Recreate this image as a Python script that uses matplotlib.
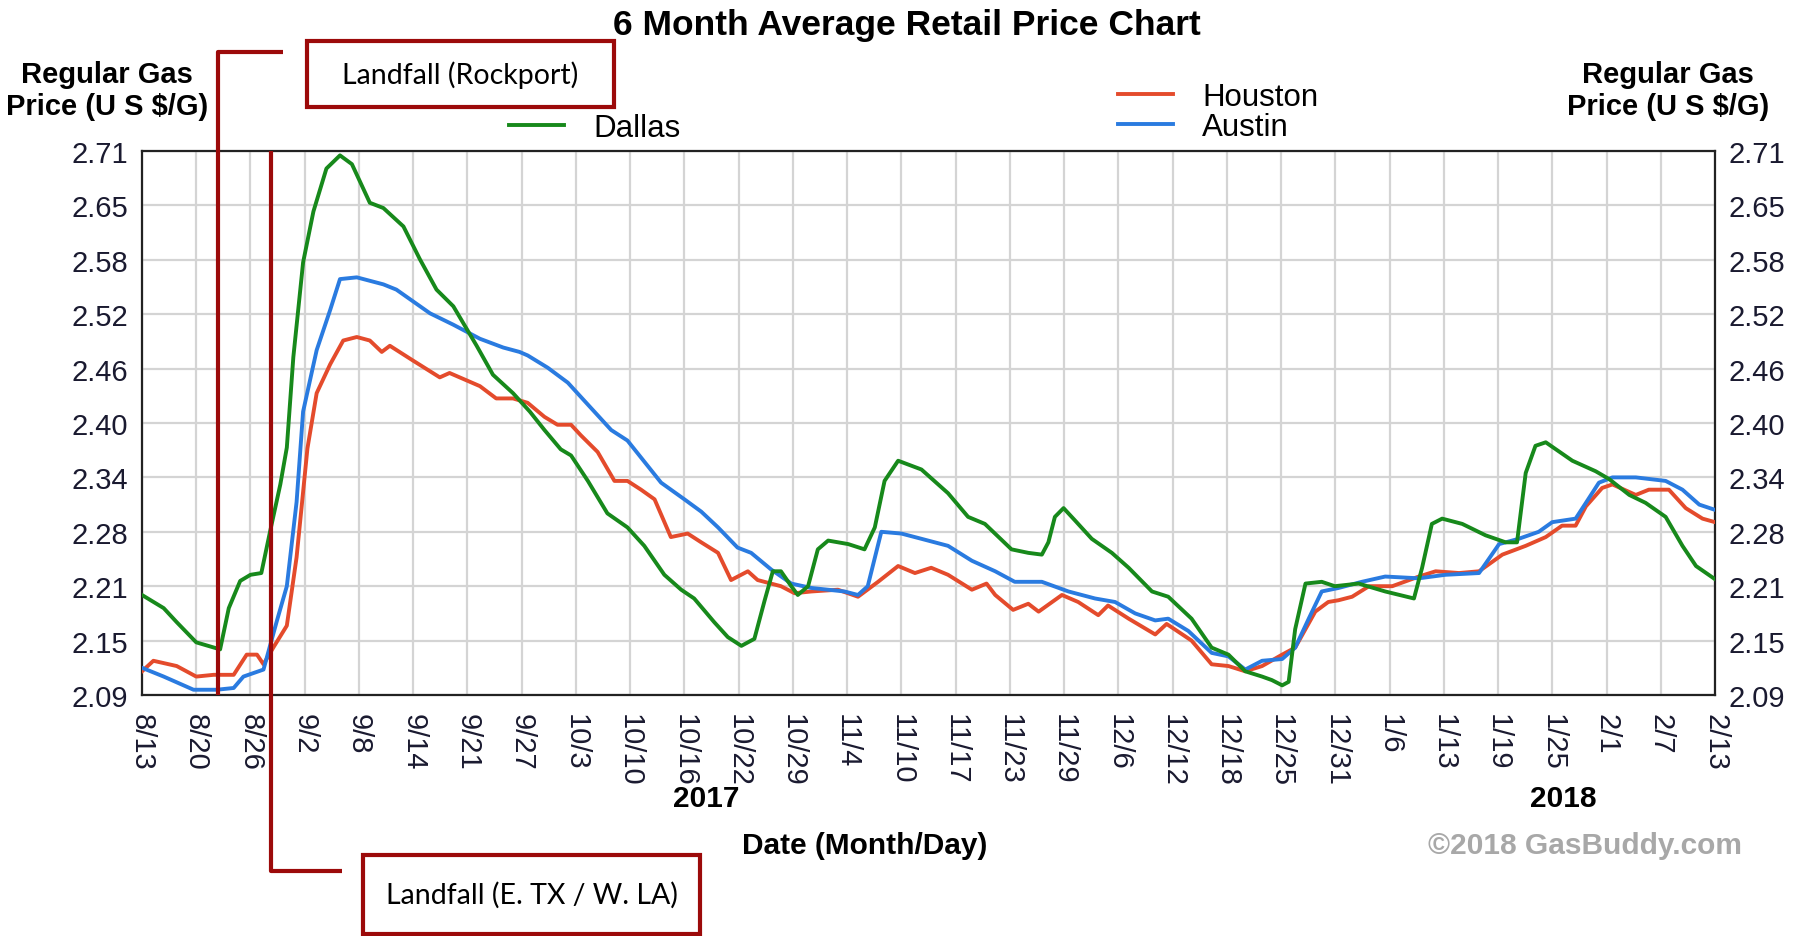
import matplotlib
matplotlib.use("Agg")
import matplotlib.pyplot as plt
from matplotlib.lines import Line2D
from matplotlib.patches import Rectangle

# x positions are in tick units (0 = 8/13/2017 ... 29 = 2/13/2018)
date_labels = ["8/13", "8/20", "8/26", "9/2", "9/8", "9/14", "9/21", "9/27", "10/3", "10/10",
               "10/16", "10/22", "10/29", "11/4", "11/10", "11/17", "11/23", "11/29", "12/6", "12/12",
               "12/18", "12/25", "12/31", "1/6", "1/13", "1/19", "1/25", "2/1", "2/7", "2/13"]
price_ticks = [2.09, 2.152, 2.214, 2.276, 2.338, 2.40, 2.462, 2.524, 2.586, 2.648, 2.71]
price_labels = ["2.09", "2.15", "2.21", "2.28", "2.34", "2.40", "2.46", "2.52", "2.58", "2.65", "2.71"]

dallas_x = [0, 0.4, 0.64, 1.0, 1.44, 1.6, 1.81, 2.0, 2.2, 2.36, 2.55, 2.67, 2.79, 2.97, 3.16, 3.4,
            3.65, 3.87, 4.2, 4.45, 4.82, 5.12, 5.43, 5.74, 6.17, 6.47, 6.84, 7.15, 7.42, 7.72, 7.91,
            8.22, 8.58, 8.95, 9.26, 9.63, 9.94, 10.18, 10.55, 10.8, 11.05, 11.29, 11.48, 11.63, 11.78,
            11.97, 12.09, 12.28, 12.46, 12.65, 13.02, 13.32, 13.51, 13.69, 13.94, 14.37, 14.86, 15.23,
            15.54, 16.03, 16.34, 16.59, 16.71, 16.83, 16.99, 17.2, 17.51, 17.88, 18.19, 18.62, 18.92,
            19.35, 19.72, 20.03, 20.34, 20.65, 20.83, 21.02, 21.14, 21.26, 21.45, 21.75, 21.99, 22.43,
            22.92, 23.45, 23.6, 23.78, 23.97, 24.34, 24.77, 25.14, 25.35, 25.51, 25.69, 25.88, 26.37,
            26.8, 27.05, 27.42, 27.72, 28.09, 28.4, 28.65, 29.0]
dallas_y = [2.204, 2.189, 2.173, 2.150, 2.142, 2.189, 2.22, 2.227, 2.229, 2.276, 2.33, 2.372, 2.475,
            2.583, 2.641, 2.69, 2.705, 2.695, 2.651, 2.645, 2.624, 2.587, 2.552, 2.533, 2.488, 2.455,
            2.434, 2.413, 2.392, 2.37, 2.363, 2.334, 2.297, 2.281, 2.26, 2.227, 2.21, 2.2, 2.173, 2.156,
            2.146, 2.154, 2.198, 2.231, 2.231, 2.214, 2.204, 2.214, 2.256, 2.266, 2.262, 2.256, 2.281,
            2.334, 2.357, 2.347, 2.32, 2.293, 2.285, 2.256, 2.252, 2.25, 2.264, 2.293, 2.303, 2.289,
            2.268, 2.252, 2.235, 2.208, 2.202, 2.177, 2.144, 2.136, 2.117, 2.111, 2.107, 2.101, 2.105,
            2.165, 2.217, 2.219, 2.214, 2.217, 2.208, 2.2, 2.235, 2.285, 2.291, 2.285, 2.272, 2.264,
            2.264, 2.343, 2.374, 2.378, 2.357, 2.345, 2.336, 2.318, 2.309, 2.293, 2.26, 2.237, 2.222]

austin_x = [0, 0.4, 0.95, 1.38, 1.69, 1.87, 2.24, 2.48, 2.67, 2.85, 2.97, 3.22, 3.47, 3.65, 3.96,
            4.45, 4.69, 5.31, 5.74, 6.23, 6.66, 6.96, 7.11, 7.48, 7.85, 8.22, 8.65, 8.95, 9.57, 10.0,
            10.31, 10.62, 10.98, 11.23, 11.6, 11.97, 12.34, 12.95, 13.2, 13.38, 13.63, 14.0, 14.37,
            14.86, 15.3, 15.73, 16.09, 16.59, 17.08, 17.57, 17.94, 18.31, 18.68, 18.92, 19.29, 19.72,
            20.03, 20.34, 20.65, 21.02, 21.26, 21.51, 21.75, 22.06, 22.49, 22.92, 23.54, 24.03, 24.65,
            25.02, 25.38, 25.75, 26.0, 26.43, 26.62, 26.86, 27.11, 27.54, 28.09, 28.4, 28.71, 29.0]
austin_y = [2.121, 2.111, 2.096, 2.096, 2.098, 2.111, 2.119, 2.173, 2.214, 2.31, 2.413, 2.483, 2.529,
            2.564, 2.566, 2.558, 2.552, 2.525, 2.512, 2.496, 2.486, 2.481, 2.477, 2.463, 2.446, 2.421,
            2.392, 2.38, 2.332, 2.313, 2.299, 2.281, 2.258, 2.252, 2.233, 2.217, 2.212, 2.208, 2.204,
            2.214, 2.276, 2.274, 2.268, 2.26, 2.243, 2.231, 2.219, 2.219, 2.208, 2.2, 2.196, 2.183,
            2.175, 2.177, 2.163, 2.138, 2.134, 2.119, 2.129, 2.131, 2.144, 2.177, 2.208, 2.212, 2.219,
            2.225, 2.223, 2.227, 2.229, 2.262, 2.268, 2.276, 2.287, 2.291, 2.309, 2.332, 2.338, 2.338,
            2.334, 2.324, 2.307, 2.301]

houston_x = [0, 0.21, 0.64, 1.0, 1.32, 1.69, 1.93, 2.12, 2.24, 2.42, 2.67, 2.85, 3.05, 3.22, 3.47,
             3.71, 3.96, 4.2, 4.42, 4.57, 5.0, 5.49, 5.67, 6.23, 6.53, 6.84, 7.11, 7.42, 7.66, 7.91,
             8.09, 8.4, 8.71, 8.95, 9.2, 9.45, 9.75, 10.06, 10.31, 10.62, 10.86, 11.17, 11.35, 11.78,
             12.03, 12.34, 12.83, 13.2, 13.57, 13.94, 14.25, 14.55, 14.86, 15.3, 15.57, 15.73, 16.06,
             16.34, 16.53, 16.96, 17.26, 17.63, 17.81, 18.19, 18.68, 18.89, 19.35, 19.72, 20.03, 20.34,
             20.65, 21.02, 21.26, 21.63, 21.87, 22.06, 22.31, 22.62, 23.05, 23.54, 23.85, 24.28, 24.65,
             25.08, 25.51, 25.88, 26.18, 26.43, 26.62, 26.92, 27.11, 27.54, 27.78, 28.15, 28.46, 28.77,
             29.0]
houston_y = [2.117, 2.129, 2.123, 2.111, 2.113, 2.113, 2.136, 2.136, 2.125, 2.144, 2.169, 2.247,
             2.371, 2.434, 2.467, 2.494, 2.498, 2.494, 2.481, 2.488, 2.471, 2.452, 2.457, 2.442, 2.428,
             2.428, 2.423, 2.407, 2.398, 2.398, 2.386, 2.367, 2.334, 2.334, 2.324, 2.313, 2.27, 2.274,
             2.264, 2.252, 2.221, 2.231, 2.221, 2.214, 2.206, 2.208, 2.21, 2.202, 2.219, 2.237, 2.229,
             2.235, 2.227, 2.21, 2.217, 2.204, 2.187, 2.194, 2.185, 2.204, 2.196, 2.181, 2.192, 2.177,
             2.159, 2.171, 2.152, 2.125, 2.123, 2.117, 2.123, 2.136, 2.144, 2.185, 2.196, 2.198, 2.202,
             2.214, 2.214, 2.225, 2.231, 2.229, 2.231, 2.25, 2.26, 2.27, 2.283, 2.283, 2.305, 2.326,
             2.33, 2.318, 2.324, 2.324, 2.303, 2.291, 2.287]

W, H = 1801, 937
plt.rcParams['font.family'] = ['Liberation Sans', 'DejaVu Sans']

fig = plt.figure(figsize=(W / 100, H / 100), dpi=100)
ax = fig.add_axes([142 / W, 1 - 696 / H, (1715 - 142) / W, (696 - 152) / H])

houston, = ax.plot(houston_x, houston_y, color='#e44b2c', lw=2.8, label='Houston', zorder=3)
austin, = ax.plot(austin_x, austin_y, color='#2a7be0', lw=2.8, label='Austin', zorder=4)
dallas, = ax.plot(dallas_x, dallas_y, color='#17891b', lw=2.8, label='Dallas', zorder=5)

ax.set_xlim(0, 29)
ax.set_ylim(2.09, 2.71)
ax.set_xticks(range(len(date_labels)))
ax.set_xticklabels(date_labels, rotation=-90, fontsize=21, color='#1a1a30')
ax.set_yticks(price_ticks)
ax.set_yticklabels(price_labels, fontsize=21, color='#1a1a30')
ax.tick_params(length=0, pad=10)
ax.tick_params(axis='x', pad=13)
ax.grid(True, color='#d4d4d4', lw=1.6)
ax.set_axisbelow(True)
for s in ax.spines.values():
    s.set_linewidth(1.6)
    s.set_color('#222222')

ax2 = ax.twinx()
ax2.set_ylim(2.09, 2.71)
ax2.set_yticks(price_ticks)
ax2.set_yticklabels(price_labels, fontsize=21, color='#1a1a30')
ax2.tick_params(length=0, pad=10)
for s in ax2.spines.values():
    s.set_visible(False)

# year labels under the date axis
xt = ax.get_xaxis_transform()
ax.text(10.4, -0.19, "2017", transform=xt, ha='center', va='center', fontsize=21.5, fontweight='bold')
ax.text(26.2, -0.19, "2018", transform=xt, ha='center', va='center', fontsize=21.5, fontweight='bold')

fig.text(907 / W, 1 - 25 / H, "6 Month Average Retail Price Chart", ha='center', va='center',
         fontsize=25.5, fontweight='bold')
fig.text(107 / W, 1 - 91 / H, "Regular Gas\nPrice (U S $/G)", ha='center', va='center',
         fontsize=21, fontweight='bold', linespacing=1.15)
fig.text(1668 / W, 1 - 91 / H, "Regular Gas\nPrice (U S $/G)", ha='center', va='center',
         fontsize=21, fontweight='bold', linespacing=1.15)
fig.text(865 / W, 1 - 846 / H, "Date (Month/Day)", ha='center', va='center',
         fontsize=21.5, fontweight='bold')
fig.text(1585 / W, 1 - 846 / H, "\u00a92018 GasBuddy.com", ha='center', va='center',
         fontsize=21.5, fontweight='bold', color='#a8a8a8')

leg_kw = dict(frameon=False, fontsize=22.5, handlelength=1.75, handletextpad=0.95,
              borderpad=0, borderaxespad=0, labelspacing=0.02, loc='center left')
fig.legend(handles=[dallas], bbox_to_anchor=(509 / W, 1 - 129 / H), **leg_kw)
fig.legend(handles=[houston, austin], bbox_to_anchor=(1118 / W, 1 - 113 / H), **leg_kw)

# hurricane landfall call-outs
red = '#9c0a0a'
def fline(xs, ys):
    fig.add_artist(Line2D([x / W for x in xs], [1 - y / H for y in ys], color=red, lw=3,
                          solid_capstyle='butt', zorder=10))

def fbox(x0, y0, x1, y1, text):
    fig.add_artist(Rectangle((x0 / W, 1 - y1 / H), (x1 - x0) / W, (y1 - y0) / H, fill=False,
                             ec=red, lw=3, zorder=10))
    fig.text((x0 + x1) / 2 / W, 1 - (y0 + y1) / 2 / H, text, ha='center', va='center',
             fontsize=20.5, family='Lato', zorder=11)

fline([218, 218, 283], [696, 53, 53])
fbox(307, 42, 614, 108, "Landfall (Rockport)")
fline([271, 271, 342], [152, 872, 872])
fbox(363, 856, 700, 935, "Landfall (E. TX / W. LA)")

fig.savefig("out.png", dpi=100)
